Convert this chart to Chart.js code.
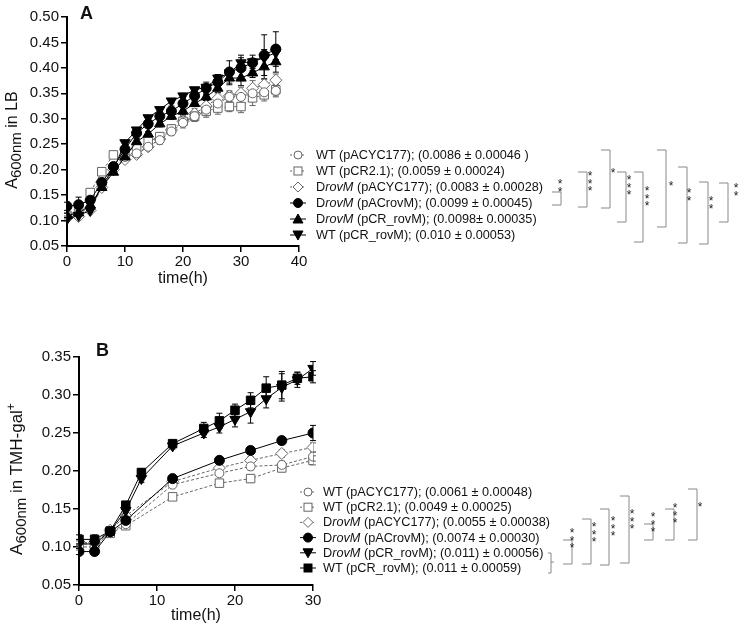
<!DOCTYPE html>
<html lang="en">
<head>
<meta charset="UTF-8">
<title>Growth curves A600nm</title>
<script src="https://cdn.jsdelivr.net/npm/chart.js"></script>
<style>
  body { margin: 0; background: #fff; font-family: "Liberation Sans", Arial, sans-serif; color: #111; }
  #wrap { position: relative; width: 741px; height: 631px; overflow: hidden; }
  canvas { position: absolute; left: 0; }
  #overlay { position: absolute; left: 0; top: 0; pointer-events: none; }
  .ytitle { position: absolute; transform: translate(-50%, -50%) rotate(-90deg); white-space: nowrap; font-size: 16px; }
  .ytitle sub { font-size: 15px; vertical-align: -4px; }
  .ytitle sup { font-size: 12px; vertical-align: 7px; }
  .row { position: absolute; white-space: nowrap; height: 16px; line-height: 16px; font-size: 12.7px; }
  .panel { position: absolute; font-weight: bold; font-size: 18px; line-height: 1; }
</style>
</head>
<body>
<div id="wrap">
  <canvas id="chartA" width="741" height="300" style="top:0"></canvas>
  <canvas id="chartB" width="741" height="300" style="top:330px"></canvas>
  <div class="panel" style="left:80px; top:4px">A</div>
  <div class="panel" style="left:96px; top:341px">B</div>
  <div class="ytitle" style="left:13px; top:140px">A<sub>600nm</sub> in LB</div>
  <div class="ytitle" style="left:16px; top:479px; font-size:17px">A<sub>600nm</sub> in TMH-gal<sup>+</sup></div>
  <div id="legends"></div>
  <svg id="overlay" width="741" height="631"></svg>
</div>

<script>
// ---- panel A : LB ----
const timeA = [0, 2, 4, 6, 8, 10, 12, 14, 16, 18, 20, 22, 24, 26, 28, 30, 32, 34, 36];
const wtPacycA   = [0.110, 0.115, 0.125, 0.170, 0.205, 0.225, 0.232, 0.245, 0.258, 0.275, 0.292, 0.305, 0.318, 0.330, 0.343, 0.343, 0.350, 0.352, 0.355];
const wtPcr21A   = [0.110, 0.120, 0.155, 0.196, 0.229, 0.235, 0.245, 0.255, 0.265, 0.280, 0.295, 0.305, 0.315, 0.321, 0.324, 0.324, 0.341, 0.347, 0.357];
const rovPacycA  = [0.105, 0.108, 0.120, 0.165, 0.200, 0.220, 0.230, 0.245, 0.260, 0.278, 0.295, 0.310, 0.325, 0.340, 0.345, 0.350, 0.360, 0.367, 0.376];
const rovPacRovA = [0.128, 0.131, 0.140, 0.175, 0.206, 0.240, 0.272, 0.290, 0.305, 0.315, 0.330, 0.345, 0.360, 0.372, 0.392, 0.400, 0.410, 0.425, 0.437];
const rovPcrRovA = [0.110, 0.115, 0.130, 0.165, 0.195, 0.225, 0.255, 0.270, 0.290, 0.305, 0.315, 0.330, 0.343, 0.360, 0.380, 0.380, 0.390, 0.402, 0.412];
const wtPcrRovA  = [0.103, 0.110, 0.120, 0.170, 0.200, 0.253, 0.278, 0.302, 0.318, 0.335, 0.345, 0.357, 0.362, 0.380, 0.390, 0.410, 0.412, 0.420, 0.430];
const errOpenA   = [0.004, 0.004, 0.005, 0.005, 0.005, 0.005, 0.006, 0.006, 0.008, 0.008, 0.010, 0.010, 0.012, 0.012, 0.010, 0.012, 0.015, 0.012, 0.012];
const errFillA   = [0.008, 0.015, 0.008, 0.006, 0.006, 0.006, 0.010, 0.008, 0.010, 0.010, 0.012, 0.010, 0.012, 0.015, 0.022, 0.025, 0.015, 0.040, 0.034];
const legendA = [
  'WT (pACYC177); (0.0086 ± 0.00046 )',
  'WT (pCR2.1); (0.0059 ± 0.00024)',
  'D<i>rovM</i> (pACYC177); (0.0083 ± 0.00028)',
  'D<i>rovM</i> (pACrovM); (0.0099 ± 0.00045)',
  'D<i>rovM</i> (pCR_rovM); (0.0098± 0.00035)',
  'WT (pCR_rovM); (0.010 ± 0.00053)'
];

// ---- panel B : TMH-gal+ ----
const timeBOpen = [0, 2, 4, 6, 12, 18, 22, 26, 30];
const timeBFill = [0, 2, 4, 6, 8, 12, 16, 18, 20, 22, 24, 26, 28, 30];
const wtPacycB   = [0.100, 0.100, 0.120, 0.130, 0.182, 0.197, 0.206, 0.208, 0.219];
const wtPcr21B   = [0.104, 0.104, 0.118, 0.128, 0.166, 0.184, 0.190, 0.204, 0.214];
const rovPacycB  = [0.106, 0.106, 0.122, 0.141, 0.186, 0.204, 0.214, 0.223, 0.231];
const rovPacRovB = [0.094, 0.094, 0.120, 0.135, 0.190, 0.214, 0.227, 0.240, 0.250];
const rovPcrRovB = [0.104, 0.104, 0.121, 0.148, 0.190, 0.233, 0.250, 0.258, 0.268, 0.278, 0.295, 0.310, 0.320, 0.335];
const wtPcrRovB  = [0.110, 0.110, 0.121, 0.155, 0.198, 0.236, 0.256, 0.266, 0.280, 0.293, 0.309, 0.313, 0.322, 0.324];
const errOpenB   = [0.004, 0.004, 0.003, 0.004, 0.004, 0.004, 0.005, 0.005, 0.006];
const errPacRovB = [0.004, 0.004, 0.003, 0.004, 0.004, 0.004, 0.005, 0.005, 0.010];
const errPcrRovB = [0.006, 0.006, 0.004, 0.005, 0.005, 0.004, 0.006, 0.008, 0.010, 0.015, 0.012, 0.018, 0.010, 0.009];
const errWtRovB  = [0.006, 0.006, 0.004, 0.005, 0.005, 0.004, 0.008, 0.010, 0.008, 0.010, 0.015, 0.018, 0.008, 0.008];
const legendB = [
  'WT (pACYC177); (0.0061 ± 0.00048)',
  'WT (pCR2.1); (0.0049 ± 0.00025)',
  'D<i>rovM</i> (pACYC177); (0.0055 ± 0.00038)',
  'D<i>rovM</i> (pACrovM); (0.0074 ± 0.00030)',
  'D<i>rovM</i> (pCR_rovM); (0.011) ± 0.00056)',
  'WT (pCR_rovM); (0.011 ± 0.00059)'
];

const GREY = '#666';

function pts(t, v) { return t.map((x, i) => ({ x: x, y: v[i] })); }

// open markers, dashed grey line
function openSet(label, t, v, err, style) {
  return {
    label, data: pts(t, v), errors: err, order: 1,
    borderColor: GREY, borderWidth: 1, borderDash: [3, 2],
    pointStyle: style, pointRadius: style === 'circle' ? 4.5 : 6,
    pointBackgroundColor: '#fff', pointBorderColor: GREY, pointBorderWidth: 1
  };
}
// filled black markers, solid line
function fillSet(label, t, v, err, style, rot) {
  return {
    label, data: pts(t, v), errors: err, order: 0,
    borderColor: '#000', borderWidth: 1,
    pointStyle: style, pointRadius: style === 'circle' ? 5 : 6, pointRotation: rot || 0,
    pointBackgroundColor: '#000', pointBorderColor: '#000', pointBorderWidth: 1
  };
}

// error bars with caps, drawn under the lines
const errorBars = {
  id: 'errorBars',
  beforeDatasetsDraw(chart) {
    const ctx = chart.ctx, xs = chart.scales.x, ys = chart.scales.y;
    chart.data.datasets.forEach(ds => {
      ctx.save();
      ctx.strokeStyle = ds.borderColor;
      ctx.lineWidth = 1;
      ds.data.forEach((p, j) => {
        const e = ds.errors[j];
        const x = xs.getPixelForValue(p.x);
        const y1 = ys.getPixelForValue(p.y + e), y2 = ys.getPixelForValue(p.y - e);
        ctx.beginPath();
        ctx.moveTo(x, y1); ctx.lineTo(x, y2);
        ctx.moveTo(x - 3, y1); ctx.lineTo(x + 3, y1);
        ctx.moveTo(x - 3, y2); ctx.lineTo(x + 3, y2);
        ctx.stroke();
      });
      ctx.restore();
    });
  }
};

Chart.defaults.font.family = "'Liberation Sans', Arial, sans-serif";
Chart.defaults.color = '#111';

function axisCommon() {
  return {
    grid: { display: true, drawOnChartArea: false, drawTicks: true, tickLength: 6, color: '#000', lineWidth: 1.5 },
    border: { display: true, color: '#000', width: 2 }
  };
}

function makeChart(id, datasets, o) {
  return new Chart(document.getElementById(id), {
    type: 'line',
    data: { datasets },
    plugins: [errorBars],
    options: {
      responsive: false,
      animation: false,
      layout: { padding: { left: 0, top: o.top, right: o.right, bottom: 0 } },
      plugins: { legend: { display: false }, tooltip: { enabled: false } },
      scales: {
        x: Object.assign(axisCommon(), {
          type: 'linear', min: 0, max: o.xmax,
          ticks: { stepSize: 10, font: { size: 15 }, padding: 1 },
          title: { display: true, text: 'time(h)', font: { size: 16 }, padding: { top: 0, bottom: o.titlePad } },
          afterFit: s => { s.height = o.xh; }
        }),
        y: Object.assign(axisCommon(), {
          min: 0.05, max: o.ymax,
          ticks: { stepSize: 0.05, font: { size: 15 }, padding: 2, callback: v => v.toFixed(2) },
          afterFit: s => { s.width = o.yw; }
        })
      }
    }
  });
}

makeChart('chartA', [
  openSet('WT (pACYC177)', timeA, wtPacycA, errOpenA, 'circle'),
  openSet('WT (pCR2.1)', timeA, wtPcr21A, errOpenA, 'rect'),
  openSet('DrovM (pACYC177)', timeA, rovPacycA, errOpenA, 'rectRot'),
  fillSet('DrovM (pACrovM)', timeA, rovPacRovA, errFillA, 'circle'),
  fillSet('DrovM (pCR_rovM)', timeA, rovPcrRovA, errFillA.map(e => e * 0.6), 'triangle'),
  fillSet('WT (pCR_rovM)', timeA, wtPcrRovA, errFillA.map(e => e * 0.4), 'triangle', 180)
], { top: 17, right: 442, xmax: 40, ymax: 0.5, xh: 54, yw: 67, titlePad: 12 });

makeChart('chartB', [
  openSet('WT (pACYC177)', timeBOpen, wtPacycB, errOpenB, 'circle'),
  openSet('WT (pCR2.1)', timeBOpen, wtPcr21B, errOpenB, 'rect'),
  openSet('DrovM (pACYC177)', timeBOpen, rovPacycB, errOpenB, 'rectRot'),
  fillSet('DrovM (pACrovM)', timeBOpen, rovPacRovB, errPacRovB, 'circle'),
  fillSet('DrovM (pCR_rovM)', timeBFill, rovPcrRovB, errPcrRovB, 'triangle', 180),
  fillSet('WT (pCR_rovM)', timeBFill, wtPcrRovB, errWtRovB, 'rect')
], { top: 27, right: 428, xmax: 30, ymax: 0.35, xh: 45, yw: 79, titlePad: 5 });

// ---- legends (html text) + markers, brackets and stars (svg) ----
const NS = 'http://www.w3.org/2000/svg';
const svg = document.getElementById('overlay');
function el(tag, attrs, text) {
  const e = document.createElementNS(NS, tag);
  for (const k in attrs) e.setAttribute(k, attrs[k]);
  if (text) e.textContent = text;
  svg.appendChild(e);
  return e;
}

function marker(shape, cx, cy, open) {
  const f = open ? '#fff' : '#000', s = open ? GREY : '#000';
  const a = { fill: f, stroke: s, 'stroke-width': 1 };
  if (shape === 'circle') el('circle', Object.assign({ cx, cy, r: open ? 4 : 4.5 }, a));
  if (shape === 'rect') el('rect', Object.assign({ x: cx - 4, y: cy - 4, width: 8, height: 8 }, a));
  if (shape === 'diamond') el('polygon', Object.assign({ points: `${cx},${cy - 5} ${cx + 5},${cy} ${cx},${cy + 5} ${cx - 5},${cy}` }, a));
  if (shape === 'up') el('polygon', Object.assign({ points: `${cx},${cy - 5} ${cx + 5},${cy + 4} ${cx - 5},${cy + 4}` }, a));
  if (shape === 'down') el('polygon', Object.assign({ points: `${cx},${cy + 5} ${cx + 5},${cy - 4} ${cx - 5},${cy - 4}` }, a));
}

function legend(items, shapes, mx, tx, y0, dy) {
  const box = document.getElementById('legends');
  items.forEach((txt, i) => {
    const cy = y0 + i * dy, open = i < 3;
    el('line', { x1: mx - 8, y1: cy, x2: mx + 8, y2: cy, stroke: open ? GREY : '#000', 'stroke-width': 1, 'stroke-dasharray': open ? '2,2' : '' });
    marker(shapes[i], mx, cy, open);
    const d = document.createElement('div');
    d.className = 'row';
    d.style.left = tx + 'px';
    d.style.top = (cy - 8) + 'px';
    d.innerHTML = txt;
    box.appendChild(d);
  });
}
legend(legendA, ['circle', 'rect', 'diamond', 'circle', 'up', 'down'], 298, 316, 155, 16);
legend(legendB, ['circle', 'rect', 'diamond', 'circle', 'down', 'rect'], 308, 323, 492, 15.2);

// significance brackets: [x, top, bottom, starX, firstStarY, nStars]
const bracketsA = [
  [561, 192, 205, 560, 181, 2],
  [587, 172, 207, 590, 173, 3],
  [610, 150, 208, 613, 170, 1],
  [626, 172, 222, 629, 177, 3],
  [643, 172, 242, 647, 188, 3],
  [666, 150, 227, 671, 183, 1],
  [687, 167, 243, 689, 190, 2],
  [708, 182, 244, 711, 198, 2],
  [728, 183, 222, 736, 185, 2]
];
const bracketsB = [
  [572, 540, 564, 572, 530, 3],
  [591, 519, 564, 594, 524, 3],
  [609, 509, 565, 613, 518, 3],
  [629, 496, 563, 632, 511, 3],
  [653, 524, 540, 653, 514, 3],
  [674, 509, 540, 675, 505, 3],
  [697, 489, 540, 700, 504, 1]
];
function brackets(list) {
  list.forEach(([x, t, b, sx, sy, n]) => {
    el('path', { d: `M${x - 9},${t} H${x} V${b} H${x - 9}`, fill: 'none', stroke: '#888', 'stroke-width': 1 });
    for (let k = 0; k < n; k++) {
      el('text', { x: sx, y: sy + k * 7.5 + 7, 'text-anchor': 'middle', 'font-size': 12, fill: '#222', 'font-family': 'Liberation Sans, Arial, sans-serif' }, '*');
    }
  });
}
brackets(bracketsA);
brackets(bracketsB);
// small brace joining the two pCR_rovM rows in B
el('path', { d: 'M548,553 H551 V562 H554 M551,562 V573 H548', fill: 'none', stroke: '#888', 'stroke-width': 1 });
</script>
</body>
</html>
